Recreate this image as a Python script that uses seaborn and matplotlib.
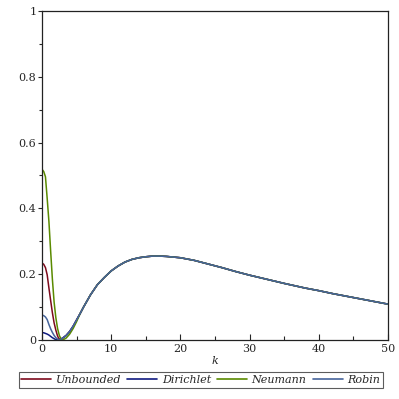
import numpy as np
import pandas as pd
import seaborn as sns
import matplotlib
matplotlib.use('Agg')
import matplotlib.pyplot as plt
from matplotlib.ticker import MultipleLocator

# values
k_low = [0, 0.25, 0.5, 0.75, 1, 1.25, 1.5, 1.75, 2, 2.25, 2.5, 2.75, 3, 3.5, 4, 4.5, 5]
unbounded_low = [.234, .230, .220, .198, .158, .120, .083, .052, .030, .012, .002, .003, .006, .014, .026, .042, .061]
dirichlet_low = [.022, .022, .020, .018, .015, .011, .007, .004, .001, .0, .001, .003, .006, .014, .026, .042, .061]
neumann_low = [.519, .512, .496, .430, .360, .270, .185, .115, .068, .035, .014, .003, .0, .006, .018, .035, .056]
robin_low = [.076, .074, .070, .062, .047, .034, .023, .014, .007, .003, .0, .002, .006, .014, .026, .042, .061]

k_tail = [5.5, 6, 7, 8, 9, 10, 11, 12, 13, 14, 15, 16, 17, 18, 19, 20, 22, 24, 26, 28,
          30, 32, 35, 38, 40, 42, 44, 47, 50]
tail = [.080, .100, .137, .168, .190, .210, .225, .237, .245, .250, .253, .255, .255, .254, .252,
        .250, .242, .231, .220, .208, .197, .187, .172, .158, .150, .141, .133, .121, .109]

names = ['Unbounded', 'Dirichlet', 'Neumann', 'Robin']
colors = ['#7d0a1c', '#0f1a80', '#5a8a00', '#46649b']
lows = [unbounded_low, dirichlet_low, neumann_low, robin_low]
y_ticks = [0, 0.2, 0.4, 0.6, 0.8, 1]
y_labels = ['0', '0.2', '0.4', '0.6', '0.8', '1']

rows = []
for name, low in zip(names, lows):
    for k, v in zip(k_low + k_tail, low + tail):
        rows.append({'k': k, 'val': v, 'case': name})
df = pd.DataFrame(rows)

sns.set_style('ticks')
plt.rcParams['font.family'] = ['DejaVu Serif']

fig = plt.figure(figsize=(3.99, 3.99), dpi=100)
ax = fig.add_axes([42 / 399, 1 - 340 / 399, 346 / 399, 329 / 399])

sns.lineplot(data=df, x='k', y='val', hue='case', palette=colors, hue_order=names,
             linewidth=1.1, sort=False, ax=ax, legend=False)

ax.set_xlim(0, 50)
ax.set_ylim(0, 1)
ax.xaxis.set_major_locator(MultipleLocator(10))
ax.xaxis.set_minor_locator(MultipleLocator(5))
ax.set_yticks(y_ticks, labels=y_labels)
ax.yaxis.set_minor_locator(MultipleLocator(0.1))
ax.tick_params(axis='x', which='both', direction='in', length=4, width=0.8, labelsize=8, pad=3)
ax.tick_params(axis='x', which='minor', length=3)
ax.tick_params(axis='y', which='both', direction='out', length=3, width=0.8, labelsize=8, pad=1)
ax.tick_params(axis='y', which='minor', length=2)
for s in ax.spines.values():
    s.set_linewidth(0.9)
    s.set_color('#222222')
ax.set_xlabel('k', fontsize=8, style='italic', labelpad=1)
ax.set_ylabel('')

handles = [plt.Line2D([], [], color=c, lw=1.2) for c in colors]
leg = fig.legend(handles, names, loc='center', bbox_to_anchor=(0.503, 0.048), ncol=4,
                 frameon=True, fancybox=False, edgecolor='#333333', handlelength=2.7,
                 handletextpad=0.4, columnspacing=0.55, borderpad=0.25,
                 prop={'style': 'italic', 'size': 8})
leg.get_frame().set_linewidth(0.8)

fig.savefig('out.png', dpi=100)
